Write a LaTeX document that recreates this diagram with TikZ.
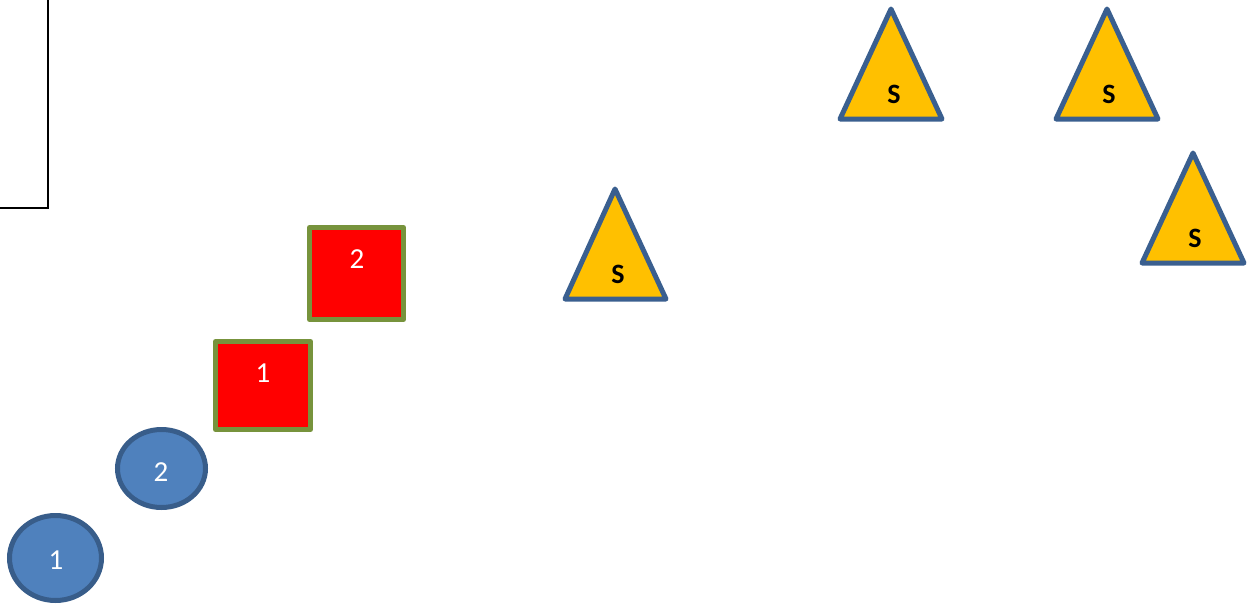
\documentclass[tikz,border=0pt]{standalone}
\usepackage{fontspec}
\setmainfont{Carlito}
\definecolor{cfill}{HTML}{4F81BD}
\definecolor{cedge}{HTML}{385D8A}
\definecolor{sqedge}{HTML}{77933C}
\definecolor{trifill}{HTML}{FFC000}
\definecolor{triedge}{HTML}{3A5F8F}
\tikzset{
  circ/.style={fill=cfill,draw=cedge,line width=5pt},
  sq/.style={fill=red,draw=sqedge,line width=5pt,line join=round},
  tri/.style={fill=trifill,draw=triedge,line width=5pt,line join=round},
  wlabel/.style={text=white,font=\fontsize{29}{32}\selectfont,inner sep=0pt},
  slabel/.style={text=black,font=\fontsize{28}{32}\selectfont\bfseries,inner sep=0pt},
  frame/.style={draw=black,line width=2pt}
}
\begin{document}
\begin{tikzpicture}[x=1pt,y=-1pt]
\useasboundingbox (0,0) rectangle (1253,605);
% frame corner
\coordinate (f1) at (48,-2);
\coordinate (f2) at (48,208);
\coordinate (f3) at (-2,208);
\draw[frame] (f1) -- (f2) -- (f3);
% circles
\draw[circ] (55.5,558) ellipse [x radius=46, y radius=42.5];
\node[wlabel] (c1) at (56,560) {1};
\draw[circ] (161.5,468.5) ellipse [x radius=44, y radius=39];
\node[wlabel] (c2) at (161,472) {2};
% squares
\draw[sq] (215.5,341.5) rectangle (310.5,429.5);
\node[wlabel] (s1) at (263,373) {1};
\draw[sq] (309.5,227.5) rectangle (403.5,319.5);
\node[wlabel] (s2) at (357,259) {2};
% triangles
\draw[tri] (615,189) -- (666,299) -- (565,299) -- cycle;
\node[slabel] (t1) at (618,274) {S};
\draw[tri] (891,9) -- (942,119) -- (840,119) -- cycle;
\node[slabel] (t2) at (894,94) {S};
\draw[tri] (1107,9) -- (1158,119) -- (1056,119) -- cycle;
\node[slabel] (t3) at (1109,94) {S};
\draw[tri] (1193,153) -- (1244,263) -- (1142,263) -- cycle;
\node[slabel] (t4) at (1195,238) {S};
\end{tikzpicture}
\end{document}
